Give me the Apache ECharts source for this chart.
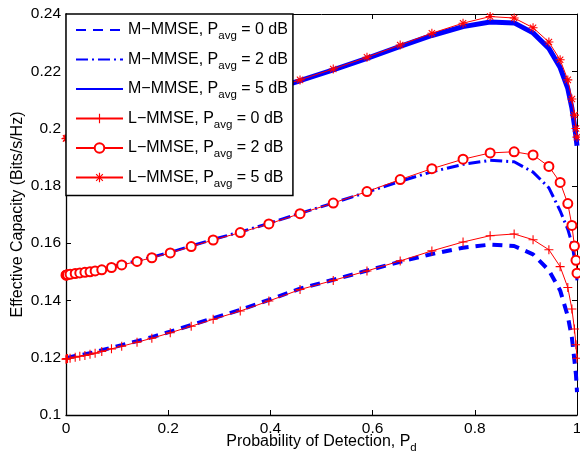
<!DOCTYPE html>
<html><head><meta charset="utf-8">
<script src="https://cdn.jsdelivr.net/npm/echarts@6/dist/echarts.min.js"></script>
<style>html,body{margin:0;padding:0;background:#fff}#c{width:580px;height:460px}</style>
</head><body><div id="c"></div>
<script>
// Probability of detection (x values shared by all curves)
const pd = [0, 0.001, 0.003, 0.008, 0.018, 0.027, 0.037, 0.047, 0.057, 0.070, 0.089, 0.109, 0.139, 0.168, 0.204, 0.245, 0.288, 0.341, 0.397, 0.458, 0.523, 0.589, 0.654, 0.716, 0.777, 0.830, 0.877, 0.914, 0.945, 0.967, 0.982, 0.990, 0.995, 0.998, 1.0];

const mmse0 = [0.1199, 0.1200, 0.1201, 0.1202, 0.1206, 0.1209, 0.1212, 0.1216, 0.1220, 0.1226, 0.1235, 0.1244, 0.1258, 0.1272, 0.1291, 0.1314, 0.1338, 0.1367, 0.1402, 0.1441, 0.1472, 0.1504, 0.1535, 0.1562, 0.1584, 0.1595, 0.1590, 0.1561, 0.1505, 0.1435, 0.1345, 0.1270, 0.1190, 0.1140, 0.1080];
const mmse2 = [0.1490, 0.1491, 0.1492, 0.1493, 0.1496, 0.1498, 0.1500, 0.1502, 0.1505, 0.1509, 0.1517, 0.1526, 0.1538, 0.1551, 0.1568, 0.1590, 0.1613, 0.1639, 0.1669, 0.1704, 0.1740, 0.1778, 0.1816, 0.1849, 0.1875, 0.1889, 0.1884, 0.1848, 0.1793, 0.1713, 0.1648, 0.1600, 0.1545, 0.1505, 0.1470];
const mmse5 = [0.1963, 0.1964, 0.1965, 0.1966, 0.1969, 0.1971, 0.1973, 0.1975, 0.1978, 0.1982, 0.1989, 0.1998, 0.2010, 0.2023, 0.2039, 0.2060, 0.2081, 0.2106, 0.2134, 0.2167, 0.2205, 0.2245, 0.2287, 0.2325, 0.2356, 0.2372, 0.2369, 0.2334, 0.2280, 0.2213, 0.2140, 0.2072, 0.2012, 0.1972, 0.1940];
const lmmse0 = [0.1195, 0.1196, 0.1197, 0.1198, 0.1202, 0.1205, 0.1208, 0.1212, 0.1216, 0.1222, 0.1231, 0.1240, 0.1254, 0.1268, 0.1287, 0.1310, 0.1334, 0.1363, 0.1398, 0.1438, 0.1470, 0.1503, 0.1538, 0.1573, 0.1604, 0.1626, 0.1632, 0.1612, 0.1577, 0.1518, 0.1445, 0.1370, 0.1300, 0.1245, 0.1198];
const lmmse2 = [0.1488, 0.1489, 0.1490, 0.1491, 0.1494, 0.1496, 0.1498, 0.1500, 0.1503, 0.1507, 0.1515, 0.1524, 0.1536, 0.1549, 0.1566, 0.1588, 0.1611, 0.1637, 0.1667, 0.1703, 0.1740, 0.1780, 0.1822, 0.1860, 0.1893, 0.1915, 0.1919, 0.1908, 0.1868, 0.1812, 0.1738, 0.1662, 0.1590, 0.1540, 0.1495];
const lmmse5 = [0.1965, 0.1966, 0.1967, 0.1968, 0.1971, 0.1973, 0.1975, 0.1977, 0.1980, 0.1984, 0.1991, 0.2000, 0.2012, 0.2025, 0.2041, 0.2062, 0.2083, 0.2108, 0.2136, 0.2170, 0.2208, 0.2249, 0.2292, 0.2333, 0.2368, 0.2391, 0.2386, 0.2352, 0.2302, 0.2240, 0.2170, 0.2103, 0.2047, 0.2000, 0.1970];

const seriesNames = ['M−MMSE, Pavg = 0 dB', 'M−MMSE, Pavg = 2 dB', 'M−MMSE, Pavg = 5 dB',
                     'L−MMSE, Pavg = 0 dB', 'L−MMSE, Pavg = 2 dB', 'L−MMSE, Pavg = 5 dB'];
const xTicks = ['0', '0.2', '0.4', '0.6', '0.8', '1'];
const yTicks = ['0.1', '0.12', '0.14', '0.16', '0.18', '0.2', '0.22', '0.24'];

const FONT = 'Liberation Sans';
const BLUE = '#0000ff', RED = '#ff0000';
const PLUS = 'path://M4.4,0H5.6V4.4H10V5.6H5.6V10H4.4V5.6H0V4.4H4.4Z';
const STAR = 'path://M4.4,0H5.6V4.4H10V5.6H5.6V10H4.4V5.6H0V4.4H4.4Z M1.08,1.92L1.92,1.08L8.92,8.08L8.08,8.92Z M8.08,1.08L8.92,1.92L1.92,8.92L1.08,8.08Z';

const zip = ys => pd.map((x, i) => [x, ys[i]]);

function blueSeries(name, ys, width, dash) {
  return {
    name, type: 'line', data: zip(ys), symbol: 'circle', showSymbol: false, symbolSize: 0,
    itemStyle: { color: 'rgba(0,0,0,0)', borderWidth: 0, borderColor: 'rgba(0,0,0,0)' },
    lineStyle: { color: BLUE, width, type: dash },
    clip: false, z: 2
  };
}
function redSeries(name, ys, symbol, size) {
  return {
    name, type: 'line', data: zip(ys), symbol, symbolSize: size, showSymbol: true, showAllSymbol: true,
    itemStyle: { color: RED, borderWidth: 1 },
    lineStyle: { color: RED, width: 1 },
    clip: false, z: 3
  };
}

const sub = { fontFamily: FONT, fontSize: 11.5, lineHeight: 4, padding: [12, 0, 0, 0], color: '#000' };

const axisCommon = {
  axisLine: { show: true, onZero: false, lineStyle: { color: '#000', width: 1.3 } },
  axisTick: { show: true, inside: true, length: 5, lineStyle: { color: '#000', width: 1 } },
  splitLine: { show: false }
};

const chart = echarts.init(document.getElementById('c'), null, { renderer: 'canvas' });
chart.setOption({
  animation: false,
  backgroundColor: '#fff',
  grid: { left: 66, right: 3, top: 14, bottom: 45, containLabel: false, outerBoundsMode: 'none' },
  legend: {
    orient: 'vertical', left: 66, top: 14,
    padding: [4, 5, 6, 9], itemGap: 5.5, itemWidth: 47, itemHeight: 12,
    backgroundColor: '#fff', borderColor: '#000', borderWidth: 1.5,
    selectedMode: false,
    data: seriesNames,
    formatter: n => n.replace('Pavg', 'P{s|avg}'),
    textStyle: { fontFamily: FONT, fontSize: 16, color: '#000', lineHeight: 16, rich: { s: sub } }
  },
  xAxis: [
    Object.assign({}, axisCommon, {
      type: 'value', min: 0, max: 1, interval: 0.2, position: 'bottom',
      axisLabel: { margin: 6, fontFamily: FONT, fontSize: 15.5, color: '#000', formatter: v => xTicks[Math.round(v / 0.2)] },
      name: 'Probability of Detection, P{s|d}', nameLocation: 'middle', nameGap: 19, nameMoveOverlap: false,
      nameTextStyle: { fontFamily: FONT, fontSize: 16, color: '#000', lineHeight: 16, rich: { s: sub } }
    }),
    Object.assign({}, axisCommon, {
      type: 'value', min: 0, max: 1, interval: 0.2, position: 'top',
      axisLine: { show: true, onZero: false, lineStyle: { color: '#000', width: 1 } },
      axisLabel: { show: false }
    })
  ],
  yAxis: [
    Object.assign({}, axisCommon, {
      type: 'value', min: 0.1, max: 0.24, interval: 0.02, position: 'left',
      axisLabel: { margin: 5, fontFamily: FONT, fontSize: 15.5, color: '#000', formatter: v => yTicks[Math.round((v - 0.1) / 0.02)] },
      name: 'Effective Capacity (Bits/s/Hz)', nameLocation: 'middle', nameGap: 40, nameMoveOverlap: false,
      nameTextStyle: { fontFamily: FONT, fontSize: 16, color: '#000' }
    }),
    Object.assign({}, axisCommon, {
      type: 'value', min: 0.1, max: 0.24, interval: 0.02, position: 'right',
      axisLine: { show: true, onZero: false, lineStyle: { color: '#000', width: 1 } },
      axisLabel: { show: false }
    })
  ],
  series: [
    blueSeries(seriesNames[0], mmse0, 4, [10, 7]),
    blueSeries(seriesNames[1], mmse2, 3, [12, 4, 2, 4]),
    blueSeries(seriesNames[2], mmse5, 5, 'solid'),
    redSeries(seriesNames[3], lmmse0, PLUS, 9),
    redSeries(seriesNames[4], lmmse2, 'emptyCircle', 9),
    redSeries(seriesNames[5], lmmse5, STAR, 9)
  ]
});
</script></body></html>
